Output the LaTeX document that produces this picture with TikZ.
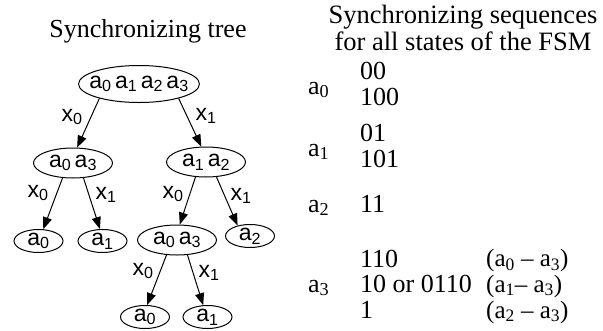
\documentclass[tikz,border=0pt]{standalone}
\usepackage{fontspec}
\setmainfont{Liberation Serif}
\setsansfont{Liberation Sans}
\usetikzlibrary{shapes.geometric,arrows.meta,positioning}

\newcommand{\sa}[1]{a\textsubscript{#1}}
\newcommand{\gap}{\hspace{3.5pt}}

\begin{document}
\begin{tikzpicture}[x=1pt, y=-1pt,
  st/.style={draw, ellipse, line width=1pt, inner sep=0pt,
    font=\sffamily\fontsize{23}{25}\selectfont},
  pair/.style={st, minimum width=79pt, minimum height=30pt},
  one/.style={st, minimum width=49pt, minimum height=23pt},
  arr/.style={-{Triangle[length=12pt,width=9pt]}, line width=1pt},
  lbl/.style={anchor=base, inner sep=0pt, font=\sffamily\fontsize{23}{25}\selectfont},
  seq/.style={anchor=base west, inner sep=0pt, font=\fontsize{26}{28}\selectfont},
  par/.style={seq, font=\fontsize{25}{27}\selectfont}]
  \useasboundingbox (0,0) rectangle (603,330);
  % Tree
  \node[anchor=base, inner sep=0pt, font=\fontsize{26}{28}\selectfont] (ttree) at (148,37) {Synchronizing tree};
  \node[st, inner xsep=-7pt, minimum height=37pt] (root) at (139,84) {\sa0\gap\sa1\gap\sa2\gap\sa3};
  \node[pair] (l) at (73,163) {\sa0\gap\sa3};
  \node[pair] (r) at (206,162) {\sa1\gap\sa2};
  \node[one] (ll) at (38.5,241) {\sa0};
  \node[one] (lr) at (102.5,241) {\sa1};
  \node[pair] (rl) at (177,240) {\sa0\gap\sa3};
  \node[one] (rr) at (250,236) {\sa2};
  \node[one] (rll) at (145,317) {\sa0};
  \node[one] (rlr) at (207.5,317) {\sa1};
  \draw[arr] (root.200) -- (l.75);
  \draw[arr] (root.-20) -- (r.107);
  \draw[arr] (l.235) -- (ll.68);
  \draw[arr] (l.-55) -- (lr.102);
  \draw[arr] (r.235) -- (rl.80);
  \draw[arr] (r.-55) -- (rr.140);
  \draw[arr] (rl.235) -- (rll.80);
  \draw[arr] (rl.-55) -- (rlr.110);
  % Edge labels
  \node[lbl] (x0a) at (72,121) {x\textsubscript{0}};
  \node[lbl] (x1a) at (206,120) {x\textsubscript{1}};
  \node[lbl] (x0b) at (38,197) {x\textsubscript{0}};
  \node[lbl] (x1b) at (106,199) {x\textsubscript{1}};
  \node[lbl] (x0c) at (173,198) {x\textsubscript{0}};
  \node[lbl] (x1c) at (241,200) {x\textsubscript{1}};
  \node[lbl] (x0d) at (143,275) {x\textsubscript{0}};
  \node[lbl] (x1d) at (209,277) {x\textsubscript{1}};
  % Sequences
  \node[font=\fontsize{26.5}{27}\selectfont, align=center, inner sep=0pt] (tseq) at (463,28.4)
    {Synchronizing sequences\\for all states of the FSM};
  \node[seq] (sa0) at (308,94) {\sa0};
  \node[seq] (q00) at (360,79) {00};
  \node[seq] (q100) at (360,105) {100};
  \node[seq] (sa1) at (308,156) {\sa1};
  \node[seq] (q01) at (360,141) {01};
  \node[seq] (q101) at (360,167) {101};
  \node[seq] (sa2) at (308,212) {\sa2};
  \node[seq] (q11) at (360,212) {11};
  \node[seq] (sa3) at (308,292) {\sa3};
  \node[seq] (q110) at (360,267) {110};
  \node[seq] (q10) at (360,292) {10 or 0110};
  \node[seq] (q1) at (360,318) {1};
  \node[par] (p03) at (486,266.5) {(\sa0 -- \sa3)};
  \node[par] (p13) at (486,292) {(\sa1-- \sa3)};
  \node[par] (p23) at (486,318) {(\sa2 -- \sa3)};
\end{tikzpicture}
\end{document}
